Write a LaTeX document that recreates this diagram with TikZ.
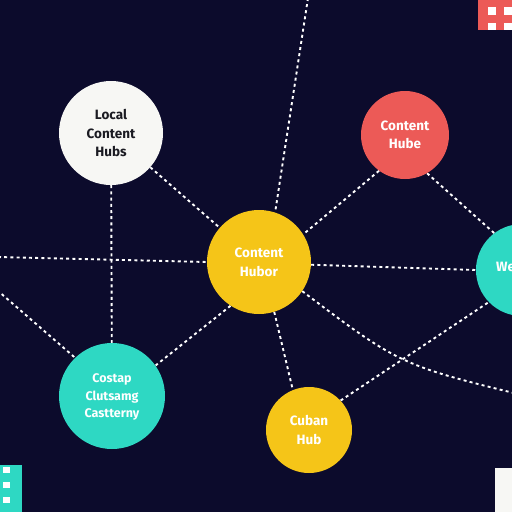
\documentclass[tikz,border=0pt]{standalone}
\usepackage{fontspec}
\setmainfont{Fira Sans}
\definecolor{bgnavy}{HTML}{0C0B2C}
\definecolor{hubyellow}{HTML}{F5C518}
\definecolor{hubred}{HTML}{EC5A57}
\definecolor{hubteal}{HTML}{2ED8C3}
\definecolor{hubwhite}{HTML}{F7F7F4}
\definecolor{txtdark}{HTML}{1B1B22}
\pgfdeclarelayer{bglayer}
\pgfdeclarelayer{linklayer}
\pgfsetlayers{bglayer,linklayer,main}
\begin{document}
\begin{tikzpicture}[x=1pt,y=-1pt,
  hub/.style={circle,inner sep=0pt,align=center,font=\bfseries\fontsize{13.5}{18.5}\selectfont,text=white},
  link/.style={draw=white,line width=1.9pt,dash pattern=on 3pt off 3.2pt},
  deco/.style={fill=white}]
\useasboundingbox (0,0) rectangle (512,512);
\clip (0,0) rectangle (512,512);
\begin{pgfonlayer}{bglayer}
\fill[bgnavy] (0,0) rectangle (512,512);
\end{pgfonlayer}

% nodes
\node[hub,minimum size=104pt,fill=hubwhite,text=txtdark] (w) at (111,133) {Local\\Content\\Hubs};
\node[hub,minimum size=88pt,fill=hubred] (r) at (405,135) {Content\\Hube};
\node[hub,minimum size=104pt,fill=hubyellow,text depth=-6pt] (c) at (259,262) {Content\\Hubor};
\node[hub,minimum size=106pt,fill=hubteal,font=\bfseries\fontsize{12.5}{17.5}\selectfont,text depth=-4pt] (tl) at (112,396) {Costap\\Clutsamg\\Castterny};
\node[hub,minimum size=86pt,fill=hubyellow] (yb) at (309,430) {Cuban\\Hub};
\node[hub,minimum size=92pt,fill=hubteal] (tr) at (522,270) {};
\node[font=\bfseries\fontsize{13.5}{16}\selectfont,text=white,anchor=west,inner sep=0pt] (trt) at (496,267) {We};

\coordinate (top) at (308,-2);
\coordinate (left1) at (-2,257);
\coordinate (left2) at (-3,290);
\coordinate (right1) at (530,397);

% connectors
\begin{pgfonlayer}{linklayer}
\path[link] (top) -- (c.72);
\path[link] (left1) -- (c.west);
\path[link] (w) -- (c);
\path[link] (w) -- (tl);
\path[link] (r.234) -- (c.32);
\path[link] (r.-60) -- (tr.127);
\path[link] (c.-3) -- (tr.180);
\path[link] (c.-34) .. controls (400,365) .. (right1);
\path[link] (left2) -- (tl.134);
\path[link] (c.237) -- (tl.35);
\path[link] (c.-73) -- (yb.112);
\path[link] (yb.43) -- (tr.224);
\end{pgfonlayer}

% corner decorations
\fill[hubred] (478,0) rectangle (512,30);
\fill[deco] (488,7) rectangle (496,15);
\fill[deco] (504,7) rectangle (512,15);
\fill[deco] (488,23) rectangle (496,30);
\fill[deco] (504,23) rectangle (512,30);
\fill[hubteal] (0,465) rectangle (22,512);
\fill[deco] (3,467) rectangle (10,473);
\fill[deco] (3,482) rectangle (10,488);
\fill[deco] (3,497) rectangle (10,503);
\fill[hubwhite] (495,468) rectangle (512,512);
\end{tikzpicture}
\end{document}
